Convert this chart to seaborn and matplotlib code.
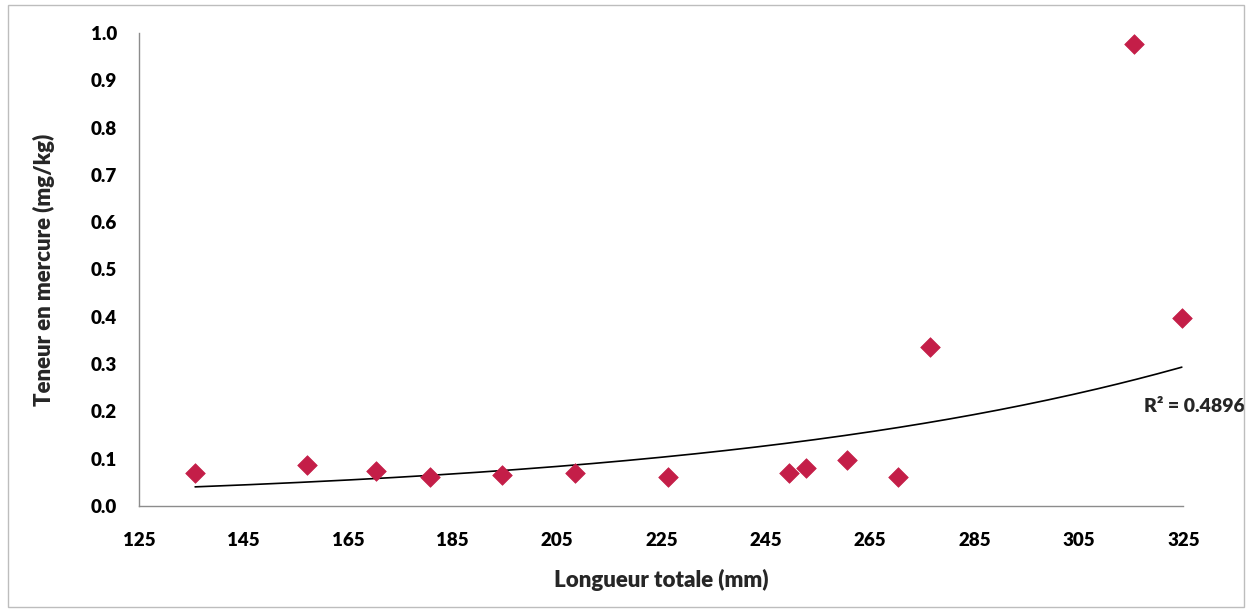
import numpy as np
import pandas as pd
import matplotlib
matplotlib.use("Agg")
import matplotlib.pyplot as plt
import seaborn as sns

# Total length (mm) and mercury content (mg/kg) of each fish
longueur = [135.7, 157.2, 170.3, 180.6, 194.4, 208.5, 226.3,
            249.5, 252.7, 260.5, 270.4, 276.5, 315.5, 324.7]
mercure = [0.069, 0.087, 0.073, 0.062, 0.066, 0.069, 0.061,
           0.069, 0.080, 0.097, 0.061, 0.337, 0.976, 0.397]

x_ticks = [125, 145, 165, 185, 205, 225, 245, 265, 285, 305, 325]
y_ticks = [0.0, 0.1, 0.2, 0.3, 0.4, 0.5, 0.6, 0.7, 0.8, 0.9, 1.0]
r2_label = "R² = 0.4896"

df = pd.DataFrame({"longueur": longueur, "mercure": mercure})

# Exponential trend line y = a * exp(b x), fitted on log(y)
b, ln_a = np.polyfit(df["longueur"], np.log(df["mercure"]), 1)
x_fit = np.linspace(min(longueur), max(longueur), 200)
trend = pd.DataFrame({"longueur": x_fit, "mercure": np.exp(ln_a + b * x_fit)})

sns.set_theme(style="white")
plt.rcParams["font.family"] = ["Lato", "DejaVu Sans"]

fig = plt.figure(figsize=(12.5, 6.11), dpi=100)
ax = fig.add_axes([0.1114, 0.172, 0.8353, 0.774])

sns.lineplot(data=trend, x="longueur", y="mercure", ax=ax,
             color="black", linewidth=1.2, zorder=2)
sns.scatterplot(data=df, x="longueur", y="mercure", ax=ax,
                marker="D", s=100, color="#C41E48", edgecolor="#C41E48",
                linewidth=0.5, zorder=3, clip_on=False)

ax.set_xlim(125, 325)
ax.set_ylim(0, 1.0)
ax.set_xticks(x_ticks)
ax.set_xticklabels([str(v) for v in x_ticks])
ax.set_yticks(y_ticks)
ax.set_yticklabels([f"{v:.1f}" for v in y_ticks])
ax.tick_params(axis="both", length=0, labelsize=13.5, colors="black")
ax.tick_params(axis="x", pad=19)
ax.tick_params(axis="y", pad=16)
for lbl in ax.get_xticklabels() + ax.get_yticklabels():
    lbl.set_fontweight("heavy")

for side in ["top", "right"]:
    ax.spines[side].set_visible(False)
for side in ["left", "bottom"]:
    ax.spines[side].set_color("#8c8c8c")
    ax.spines[side].set_linewidth(1.0)

ax.set_xlabel("Longueur totale (mm)", fontsize=16, fontweight="heavy",
              labelpad=14)
ax.set_ylabel("Teneur en mercure (mg/kg)", fontsize=16, fontweight="heavy",
              labelpad=26)

ax.text(1.011, 0.21, r2_label, transform=ax.transAxes, ha="center",
        va="center", fontsize=14, fontweight="heavy")

# Thin frame around the whole chart area
fig.patches.append(plt.Rectangle((0.006, 0.006), 0.989, 0.985,
                                 transform=fig.transFigure, fill=False,
                                 edgecolor="#bdbdbd", linewidth=1.0))

fig.savefig("out.png", dpi=100, facecolor="white")
